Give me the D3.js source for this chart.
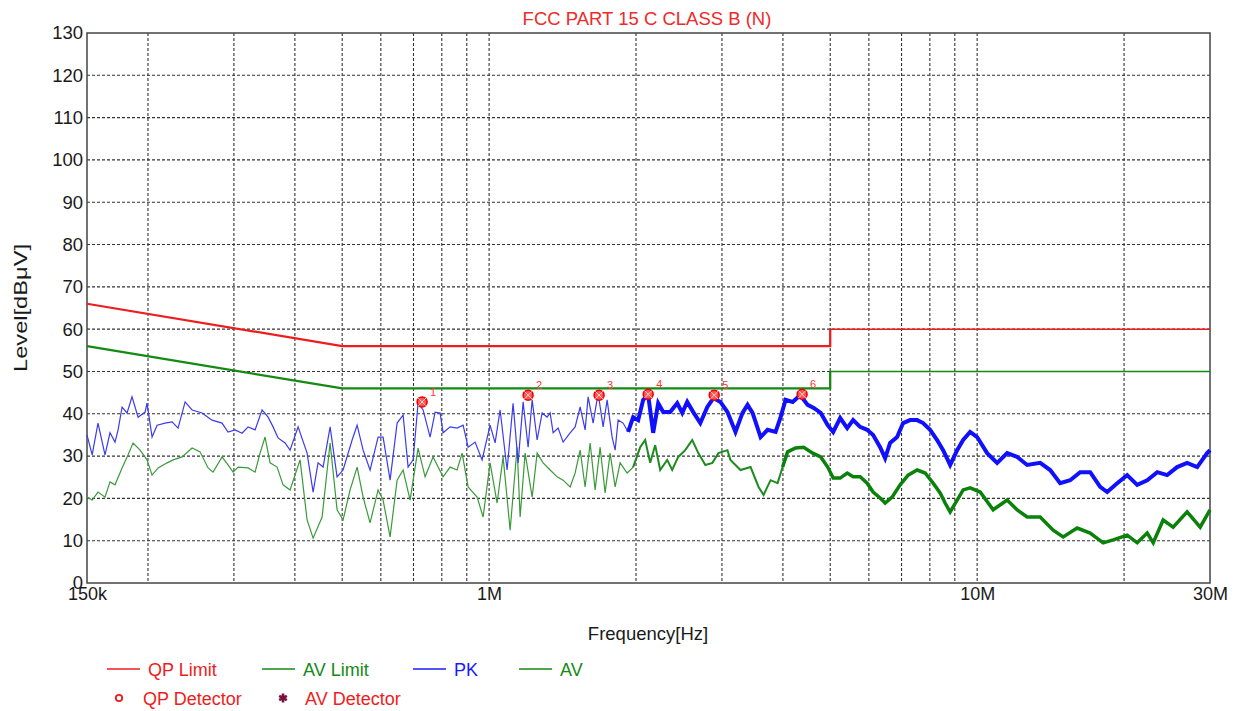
<!DOCTYPE html>
<html>
<head>
<meta charset="utf-8">
<script src="https://cdn.jsdelivr.net/npm/d3@7"></script>
<style>
  body { margin: 0; background: #fff; }
  text { font-family: "Liberation Sans", Arial, sans-serif; }
</style>
</head>
<body>
<script>
// frequencies in MHz, levels in dBuV
var pkFreq = [0.150,0.1537,0.1580,0.1633,0.1672,0.1712,0.1737,0.1770,0.1812,0.1855,0.1909,0.1973,0.1991,0.2039,0.2088,0.2168,0.2241,0.2305,0.2383,0.2463,0.2581,0.2706,0.2837,0.2918,0.3017,0.3118,0.3207,0.3315,0.3426,0.3525,0.3609,0.3695,0.3819,0.3910,0.4061,0.4237,0.4359,0.4462,0.4569,0.4723,0.4881,0.5021,0.5240,0.5365,0.5519,0.5703,0.5923,0.6064,0.6268,0.6479,0.6665,0.6824,0.6987,0.7153,0.7324,0.7570,0.7751,0.7936,0.8049,0.8319,0.8598,0.8845,0.9057,0.9361,0.9675,1.0047,1.0287,1.0533,1.0886,1.1198,1.1467,1.1741,1.2022,1.2252,1.2544,1.2842,1.3148,1.3336,1.3526,1.3849,1.4180,1.4658,1.5006,1.5365,1.5731,1.5955,1.6336,1.6725,1.7125,1.7451,1.7868,1.8122,1.8380,1.8818,1.9268,1.9731,2.0205,2.0688,2.1182,2.1687,2.2204,2.2734,2.3497,2.4292,2.4874,2.5465,2.6201,2.7087,2.8002,2.8812,2.9785,3.0787,3.1976,3.3056,3.3851,3.4660,3.5997,3.7204,3.8641,3.9563,4.0508,4.1876,4.339,4.4958,4.6257,4.7806,4.9408,5.070,5.241,5.417,5.570,5.757,5.951,6.122,6.327,6.478,6.632,6.855,7.052,7.289,7.534,7.750,8.010,8.279,8.517,8.804,9.100,9.361,9.675,10.0,10.483,10.990,11.520,12.078,12.662,13.463,14.113,14.795,15.509,16.259,17.046,17.868,18.468,19.362,20.296,21.28,22.31,23.39,24.51,25.69,26.93,28.24,29.60,30.0];
var pkLevel = [35.0,30.3,37.8,30.3,35.5,33.3,36.2,41.6,40.2,44.0,39.2,40.4,42.5,34.5,37.3,37.8,38.1,36.6,42.8,40.9,40.2,38.5,37.8,35.7,36.2,35.4,36.9,36.2,40.9,39.2,36.9,34.3,33.1,31.4,36.9,30.7,21.5,28.4,27.4,36.9,25.1,26.7,33.8,37.3,31.4,26.7,34.5,34.5,24.3,37.8,39.7,27.4,29.1,42.5,40.9,34.5,40.4,40.2,35.5,36.9,36.6,37.3,32.1,33.3,29.1,37.3,33.1,40.9,26.7,42.5,28.4,42.8,32.1,43.3,33.8,40.2,39.2,40.2,35.5,36.6,33.3,35.5,36.9,41.6,36.2,44.0,37.8,44.9,36.9,43.3,34.5,31.4,38.5,37.8,35.7,39.2,38.5,43.3,44.4,35.5,42.5,40.4,40.4,42.5,40.2,42.8,40.4,37.8,41.6,43.7,42.8,40.4,35.7,40.2,42.1,40.2,34.5,36.2,35.7,39.2,43.3,42.8,44.4,42.1,41.4,40.2,37.3,35.7,39.0,36.6,38.5,36.9,36.2,35.0,32.1,29.5,33.1,34.5,37.8,38.5,38.5,37.8,36.2,33.8,31.4,27.9,31.4,33.8,35.7,34.5,30.7,28.4,30.7,29.8,27.9,28.4,26.7,23.6,24.3,26.2,26.2,22.7,21.5,23.6,25.5,23.2,24.3,26.2,25.5,27.4,28.4,27.4,30.7,31.4];

var avFreq = [0.150,0.1537,0.1580,0.1633,0.1672,0.1712,0.1770,0.1821,0.1864,0.1927,0.1991,0.2039,0.2098,0.2189,0.2252,0.2349,0.2463,0.2557,0.2656,0.2719,0.2837,0.2918,0.2988,0.3060,0.3207,0.3315,0.3394,0.3475,0.3558,0.3678,0.3783,0.3910,0.4099,0.4237,0.4359,0.4548,0.4723,0.4881,0.5021,0.5190,0.5365,0.5519,0.5703,0.5923,0.6064,0.6268,0.6479,0.6665,0.6888,0.7153,0.7393,0.7678,0.7862,0.8049,0.8319,0.8598,0.8804,0.9057,0.9450,0.9721,1.0047,1.0385,1.0683,1.1043,1.1413,1.1576,1.1853,1.2252,1.2544,1.2903,1.3336,1.3784,1.4180,1.4658,1.5006,1.5365,1.5731,1.6107,1.6491,1.6884,1.7287,1.7700,1.8122,1.8554,1.9178,1.9731,2.0398,2.0884,2.1383,2.1893,2.2415,2.3168,2.3721,2.4407,2.5227,2.6078,2.6833,2.7739,2.8676,2.9505,3.0787,3.1225,3.2745,3.4334,3.5658,3.6509,3.7734,3.9008,3.9938,4.0892,4.2472,4.4114,4.6039,4.7806,4.9408,5.070,5.241,5.417,5.570,5.757,5.951,6.122,6.327,6.478,6.695,6.953,7.221,7.534,7.823,8.124,8.398,8.598,8.804,9.100,9.361,9.675,10.143,10.784,11.520,12.078,12.662,13.463,14.314,15.006,16.030,17.046,18.123,19.000,20.296,21.28,22.31,22.95,24.05,25.21,26.93,28.64,30.0];
var avLevel = [20.3,19.6,21.5,20.3,23.9,23.2,27.2,30.3,33.1,31.4,29.1,25.5,27.2,28.4,29.1,29.8,31.9,31.0,27.2,26.2,29.8,27.9,26.2,27.4,27.2,26.2,30.7,34.5,28.4,27.4,23.2,22.0,29.1,14.9,10.6,15.6,33.1,17.3,14.9,22.0,27.4,20.3,14.2,22.0,19.6,10.9,24.3,26.7,19.6,31.9,25.1,29.8,27.4,25.1,27.4,26.7,30.7,22.7,20.3,15.6,28.4,18.9,29.8,12.5,32.1,15.6,30.7,20.3,30.7,28.4,26.7,25.1,24.3,22.7,26.0,31.4,22.7,33.1,22.0,32.1,21.3,30.7,22.7,28.4,26.0,27.4,32.1,33.8,28.4,32.6,26.7,29.1,26.7,29.8,31.4,33.8,30.7,27.9,28.4,30.7,31.4,29.1,26.7,27.4,22.7,20.8,24.3,23.6,27.4,31.0,31.9,32.1,30.7,29.8,27.4,24.8,24.8,26.0,25.1,25.1,23.6,21.5,20.1,18.9,20.3,23.2,25.5,26.7,26.0,23.6,21.3,18.9,16.8,19.6,22.0,22.5,21.5,17.3,19.6,17.3,15.6,15.6,12.5,10.9,13.0,11.8,9.5,10.2,11.3,9.5,11.8,9.5,14.9,13.2,16.8,13.2,17.3];

// limit lines (MHz, dBuV)
var qpLimitFreq = [0.15, 0.5, 0.5, 5, 5, 30];
var qpLimitLevel = [66, 56, 56, 56, 60, 60];
var avLimitFreq = [0.15, 0.5, 0.5, 5, 5, 30];
var avLimitLevel = [56, 46, 46, 46, 50, 50];

// detector markers
var markerNo = [1, 2, 3, 4, 5, 6];
var markerFreq = [0.729, 1.202, 1.680, 2.118, 2.892, 4.379];
var markerLevel = [42.8, 44.4, 44.4, 44.6, 44.4, 44.6];

var yTicks = [0,10,20,30,40,50,60,70,80,90,100,110,120,130];
var xGrid = [0.2,0.3,0.4,0.5,0.6,0.7,0.8,0.9,1,2,3,4,5,6,7,8,9,10,20];
var xTicks = [0.15, 1, 10, 30];
var xTickLabels = ["150k", "1M", "10M", "30M"];

var svg = d3.select("body").append("svg").attr("width", 1234).attr("height", 711);

var x = d3.scaleLog().domain([0.15, 30]).range([87, 1210]);
var y = d3.scaleLinear().domain([0, 130]).range([583, 33]);

// grid
svg.append("g").selectAll("line")
    .data(xGrid)
    .enter().append("line")
    .attr("x1", function(d){return x(d);}).attr("x2", function(d){return x(d);})
    .attr("y1", y(130)).attr("y2", y(0))
    .attr("stroke", "#333").attr("stroke-width", 1.1).attr("stroke-dasharray", "3,2");

svg.append("g").selectAll("line")
    .data(yTicks.slice(1, -1))
    .enter().append("line")
    .attr("x1", x(0.15)).attr("x2", x(30))
    .attr("y1", function(d){return y(d);}).attr("y2", function(d){return y(d);})
    .attr("stroke", "#333").attr("stroke-width", 1.1).attr("stroke-dasharray", "3,2");

svg.append("rect")
    .attr("x", x(0.15)).attr("y", y(130))
    .attr("width", x(30) - x(0.15)).attr("height", y(0) - y(130))
    .attr("fill", "none").attr("stroke", "#444").attr("stroke-width", 1.5);

// axes
var yAxis = svg.append("g")
    .attr("transform", "translate(" + x(0.15) + ",0)")
    .call(d3.axisLeft(y).tickValues(yTicks).tickSize(0).tickPadding(4));
yAxis.select(".domain").remove();
yAxis.selectAll("text").attr("font-size", 18.5).attr("fill", "#1a1a1a");

var xAxis = svg.append("g")
    .attr("transform", "translate(0," + y(0) + ")")
    .call(d3.axisBottom(x).tickValues(xTicks).tickSize(0).tickPadding(4)
        .tickFormat(function(d, i){return xTickLabels[i];}));
xAxis.select(".domain").remove();
xAxis.selectAll("text").attr("font-size", 18).attr("fill", "#1a1a1a");

// titles
svg.append("text")
    .attr("x", 647).attr("y", 25)
    .attr("text-anchor", "middle").attr("font-size", 18.5).attr("fill", "#ee2a2a")
    .text("FCC PART 15 C CLASS B (N)");

svg.append("text")
    .attr("x", 648).attr("y", 640)
    .attr("text-anchor", "middle").attr("font-size", 18.5).attr("fill", "#1a1a1a")
    .text("Frequency[Hz]");

svg.append("text")
    .attr("transform", "translate(27,308) rotate(-90)")
    .attr("text-anchor", "middle").attr("font-size", 19).attr("fill", "#1a1a1a")
    .attr("textLength", 128).attr("lengthAdjust", "spacingAndGlyphs")
    .text("Level[dB\u03bcV]");

var line = d3.line().x(function(d){return x(d[0]);}).y(function(d){return y(d[1]);});

function pairs(fs, ls, lo, hi) {
  return d3.zip(fs, ls).filter(function(d){return d[0] >= lo && d[0] <= hi;});
}

// traces: thin where sparse, heavier where the sweep is dense
svg.append("path").datum(pairs(avFreq, avLevel, 0.15, 2.1))
    .attr("d", line).attr("fill", "none").attr("stroke", "#3a9a3a").attr("stroke-width", 1.2);
svg.append("path").datum(pairs(avFreq, avLevel, 1.95, 4.1))
    .attr("d", line).attr("fill", "none").attr("stroke", "#1f8a1f").attr("stroke-width", 2);
svg.append("path").datum(pairs(avFreq, avLevel, 3.99, 30))
    .attr("d", line).attr("fill", "none").attr("stroke", "#0a820a").attr("stroke-width", 3.5);

svg.append("path").datum(pairs(pkFreq, pkLevel, 0.15, 1.93))
    .attr("d", line).attr("fill", "none").attr("stroke", "#3b3bf0").attr("stroke-width", 1.2);
svg.append("path").datum(pairs(pkFreq, pkLevel, 1.92, 30))
    .attr("d", line).attr("fill", "none").attr("stroke", "#1010ff").attr("stroke-width", 4);

// limits
svg.append("path").datum(d3.zip(qpLimitFreq, qpLimitLevel).slice(0, 5))
    .attr("d", line).attr("fill", "none").attr("stroke", "#ee1c1c").attr("stroke-width", 2.2);
svg.append("path").datum(d3.zip(qpLimitFreq, qpLimitLevel).slice(3))
    .attr("d", line).attr("fill", "none").attr("stroke", "#ee1c1c").attr("stroke-width", 1.5);
svg.append("path").datum(d3.zip(avLimitFreq, avLimitLevel).slice(0, 5))
    .attr("d", line).attr("fill", "none").attr("stroke", "#138a13").attr("stroke-width", 2.2);
svg.append("path").datum(d3.zip(avLimitFreq, avLimitLevel).slice(3))
    .attr("d", line).attr("fill", "none").attr("stroke", "#138a13").attr("stroke-width", 1.5);

// markers
var mk = svg.append("g").selectAll("g")
    .data(d3.zip(markerNo, markerFreq, markerLevel))
    .enter().append("g")
    .attr("transform", function(d){return "translate(" + x(d[1]) + "," + y(d[2]) + ")";});
mk.append("circle").attr("r", 5).attr("fill", "#f55").attr("stroke", "#e00").attr("stroke-width", 1.5);
mk.append("path").attr("d", d3.symbol(d3.symbolX, 40)())
    .attr("stroke", "#fdd").attr("stroke-width", 1).attr("fill", "none");
mk.append("text").attr("x", 8).attr("y", -6)
    .attr("font-size", 11).attr("fill", "#f33")
    .text(function(d){return d[0];});

// legend
var legLines = [
  {label: "QP Limit", color: "#ee1c1c", x: 107},
  {label: "AV Limit", color: "#138a13", x: 262},
  {label: "PK", color: "#1a1aff", x: 413},
  {label: "AV", color: "#138a13", x: 519}
];
var leg = svg.append("g").selectAll("g").data(legLines).enter().append("g");
leg.append("line")
    .attr("x1", function(d){return d.x;}).attr("x2", function(d){return d.x + 33;})
    .attr("y1", 669).attr("y2", 669)
    .attr("stroke", function(d){return d.color;}).attr("stroke-width", 1.6);
leg.append("text")
    .attr("x", function(d){return d.x + 41;}).attr("y", 676)
    .attr("font-size", 18).attr("fill", function(d){return d.color;})
    .text(function(d){return d.label;});

svg.append("circle").attr("cx", 119).attr("cy", 698).attr("r", 3.2)
    .attr("fill", "none").attr("stroke", "#ee1c1c").attr("stroke-width", 1.8);
svg.append("text").attr("x", 143).attr("y", 705)
    .attr("font-size", 18).attr("fill", "#ee1c1c").text("QP Detector");
svg.append("path").attr("transform", "translate(283,698)")
    .attr("d", d3.symbol(d3.symbolAsterisk, 55)())
    .attr("stroke", "#7a1040").attr("stroke-width", 2.6).attr("fill", "none");
svg.append("text").attr("x", 305).attr("y", 705)
    .attr("font-size", 18).attr("fill", "#ee1c1c").text("AV Detector");
</script>
</body>
</html>
